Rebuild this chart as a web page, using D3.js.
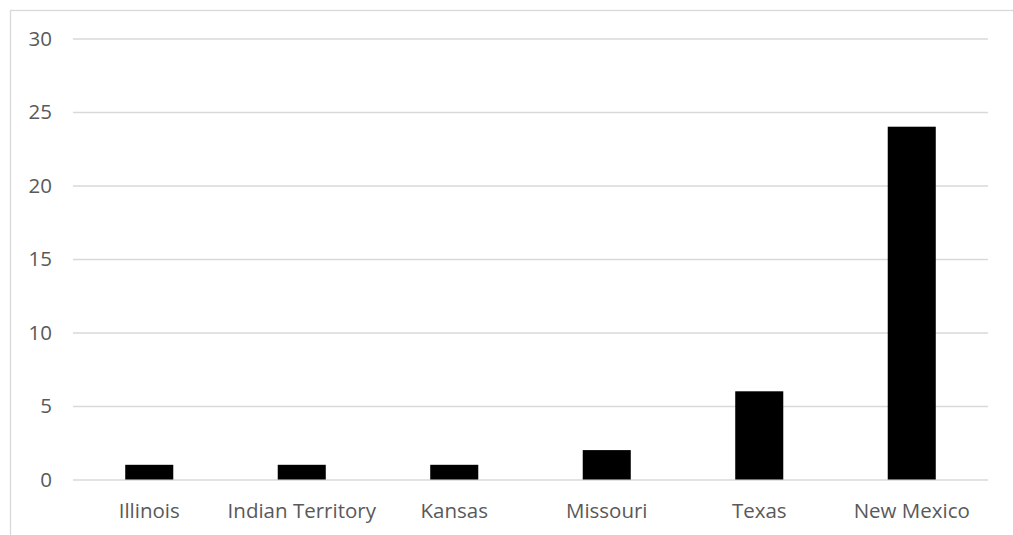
<!DOCTYPE html>
<html><head><meta charset="utf-8">
<script src="https://cdn.jsdelivr.net/npm/d3@7"></script>
<style>body{margin:0;background:#fff}svg{display:block}</style>
</head><body>
<script>
const categories = ["Illinois","Indian Territory","Kansas","Missouri","Texas","New Mexico"];
const values = [1,1,1,2,6,24];
const yTicks = [0,5,10,15,20,25,30];

(function(){
const W=1013,H=535;
const svg=d3.select("body").append("svg").attr("width",W).attr("height",H);
svg.append("rect").attr("x",10.5).attr("y",10.5).attr("width",W+20).attr("height",H+20)
  .attr("fill","none").attr("stroke","#d9d9d9").attr("stroke-width",1.3);

const mL=73,mR=988,mT=38.5,mB=479.5;
const x=d3.scaleBand().domain(categories).range([mL,mR]).paddingInner(0.685).paddingOuter(0.685/2);
const y=d3.scaleLinear().domain([0,30]).range([mB,mT]);

const font="'Open Sans', sans-serif";
const yAxis=svg.append("g").attr("transform",`translate(${mL},0)`)
  .call(d3.axisLeft(y).tickValues(yTicks).tickSize(-(mR-mL)).tickPadding(21).tickFormat(d3.format("d")));
yAxis.select(".domain").remove();
yAxis.selectAll("line").attr("stroke","#d9d9d9").attr("stroke-width",1.3);
yAxis.selectAll("text").attr("fill","#595959").style("font-size","20.5px").style("font-family",font);

svg.selectAll(".bar").data(values).join("rect").attr("class","bar")
  .attr("x",(d,i)=>x(categories[i])).attr("width",x.bandwidth())
  .attr("y",d=>y(d)).attr("height",d=>y(0)-y(d)).attr("fill","#000");

const xAxis=svg.append("g").attr("transform",`translate(0,${mB})`)
  .call(d3.axisBottom(x).tickSize(0).tickPadding(23.5));
xAxis.select(".domain").remove();
xAxis.selectAll("text").attr("fill","#595959").style("font-size","20.5px").style("font-family",font);
})();
</script>
</body></html>
